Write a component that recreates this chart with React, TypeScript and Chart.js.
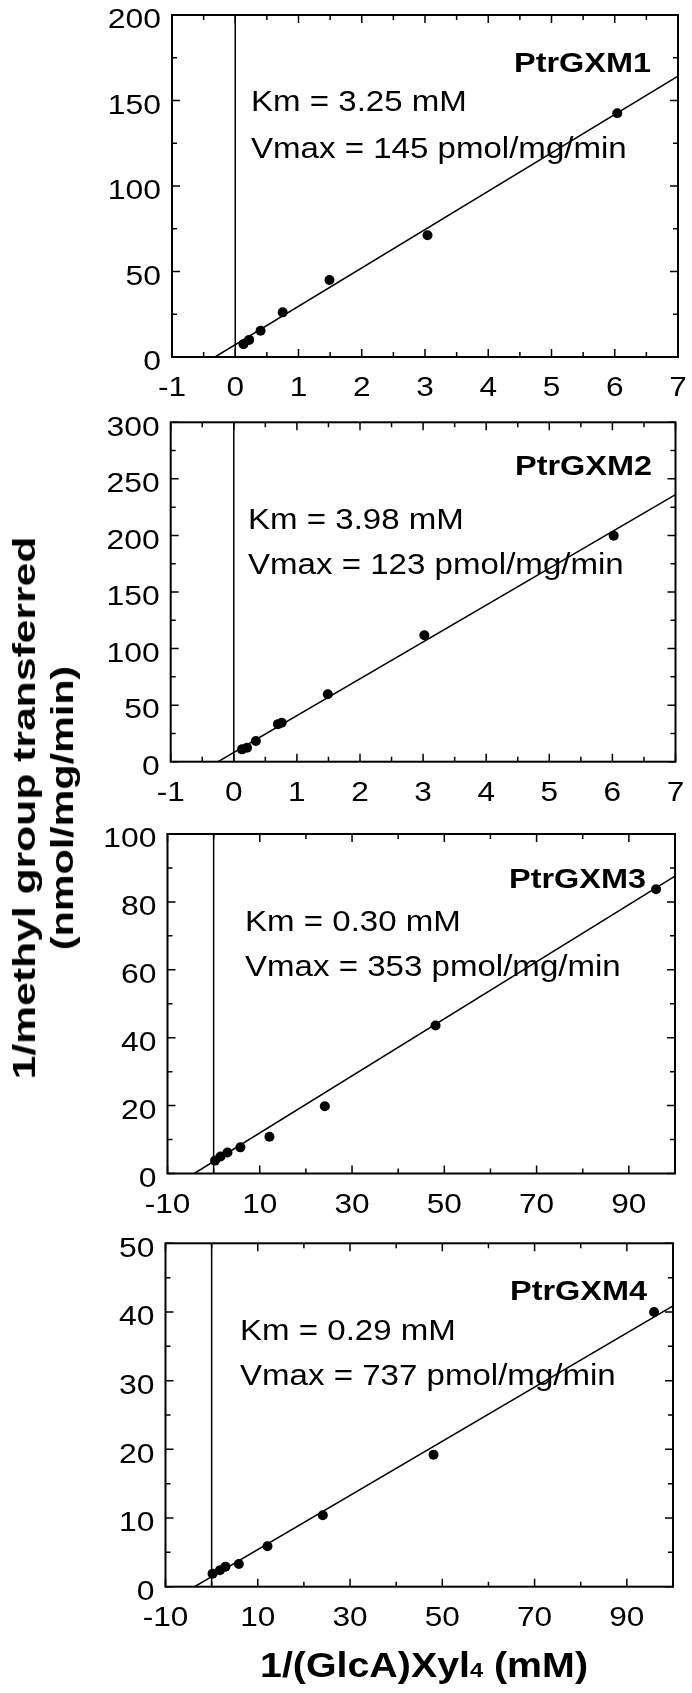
import React, { useEffect, useRef } from 'react';
import { Chart, registerables } from 'chart.js';

Chart.register(...registerables);

// ---------------- data ----------------
const P1_X = [0.13, 0.22, 0.4, 0.75, 1.49, 3.04, 6.04];
const P1_Y = [7.5, 10, 15.4, 26.1, 45, 71.2, 142.5];
const P1_FIT_X = [-0.32, 7];
const P1_FIT_Y = [0, 164.3];

const P2_X = [0.13, 0.21, 0.35, 0.7, 0.76, 1.49, 3.02, 6.02];
const P2_Y = [10.9, 12.4, 18.3, 33.2, 34.5, 59.6, 111.7, 199.8];
const P2_FIT_X = [-0.25, 7];
const P2_FIT_Y = [0, 236];

const P3_X = [0.3, 1.5, 3, 5.8, 12.1, 24.1, 48.1, 95.9];
const P3_Y = [3.8, 5, 6.2, 7.7, 10.8, 19.8, 43.6, 83.7];
const P3_FIT_X = [-4.2, 100];
const P3_FIT_Y = [0, 87.6];

const P4_X = [0.2, 1.8, 3, 5.9, 12.1, 24.1, 48.1, 95.9];
const P4_Y = [1.9, 2.4, 2.9, 3.3, 5.9, 10.4, 19.2, 40];
const P4_FIT_X = [-3.7, 100];
const P4_FIT_Y = [0, 40.9];

// tick labels
const X_TICKS_A = [-1, 0, 1, 2, 3, 4, 5, 6, 7];
const X_MINOR_A = [-0.5, 0.5, 1.5, 2.5, 3.5, 4.5, 5.5, 6.5];
const X_TICKS_B = [-10, 10, 30, 50, 70, 90];
const X_MINOR_B = [0, 20, 40, 60, 80, 100];
const Y1_TICKS = [0, 50, 100, 150, 200];
const Y1_MINOR = [25, 75, 125, 175];
const Y2_TICKS = [0, 50, 100, 150, 200, 250, 300];
const Y2_MINOR = [25, 75, 125, 175, 225, 275];
const Y3_TICKS = [0, 20, 40, 60, 80, 100];
const Y3_MINOR = [10, 30, 50, 70, 90];
const Y4_TICKS = [0, 10, 20, 30, 40, 50];
const Y4_MINOR = [5, 15, 25, 35, 45];

const NAMES = ['PtrGXM1', 'PtrGXM2', 'PtrGXM3', 'PtrGXM4'];
const KM_TEXT = ['Km = 3.25 mM', 'Km = 3.98 mM', 'Km = 0.30 mM', 'Km = 0.29 mM'];
const VMAX_TEXT = [
  'Vmax = 145 pmol/mg/min',
  'Vmax = 123 pmol/mg/min',
  'Vmax = 353 pmol/mg/min',
  'Vmax = 737 pmol/mg/min',
];

const Y_TITLE_1 = '1/methyl group transferred';
const Y_TITLE_2 = '(nmol/mg/min)';
const X_TITLE_MAIN = '1/(GlcA)Xyl';
const X_TITLE_SUB = '4';
const X_TITLE_END = ' (mM)';

// ---------------- layout (page pixels) ----------------
const W = 692;
const FONT = '"Liberation Sans", Arial, Helvetica, sans-serif';

type PanelCfg = {
  idx: number;
  xs: number[]; ys: number[]; fitX: number[]; fitY: number[];
  xMin: number; xMax: number; yMin: number; yMax: number;
  xTicks: number[]; xMinor: number[]; yTicks: number[]; yMinor: number[];
  strip: [number, number];
  area: { l: number; r: number; t: number; b: number };
  nameRight: number; nameBase: number; kmLeft: number; kmBase: number; vmBase: number;
  xTitle?: boolean;
};

const PANELS: PanelCfg[] = [
  {
    idx: 0, xs: P1_X, ys: P1_Y, fitX: P1_FIT_X, fitY: P1_FIT_Y,
    xMin: -1, xMax: 7, yMin: 0, yMax: 200,
    xTicks: X_TICKS_A, xMinor: X_MINOR_A, yTicks: Y1_TICKS, yMinor: Y1_MINOR,
    strip: [0, 410], area: { l: 172, r: 678, t: 15, b: 357 },
    nameRight: 651, nameBase: 72, kmLeft: 251, kmBase: 111, vmBase: 158,
  },
  {
    idx: 1, xs: P2_X, ys: P2_Y, fitX: P2_FIT_X, fitY: P2_FIT_Y,
    xMin: -1, xMax: 7, yMin: 0, yMax: 300,
    xTicks: X_TICKS_A, xMinor: X_MINOR_A, yTicks: Y2_TICKS, yMinor: Y2_MINOR,
    strip: [410, 820], area: { l: 170.7, r: 675.5, t: 422.3, b: 761.7 },
    nameRight: 652, nameBase: 475, kmLeft: 248, kmBase: 529, vmBase: 574,
  },
  {
    idx: 2, xs: P3_X, ys: P3_Y, fitX: P3_FIT_X, fitY: P3_FIT_Y,
    xMin: -10, xMax: 100, yMin: 0, yMax: 100,
    xTicks: X_TICKS_B, xMinor: X_MINOR_B, yTicks: Y3_TICKS, yMinor: Y3_MINOR,
    strip: [820, 1225], area: { l: 167.5, r: 675, t: 834, b: 1173.5 },
    nameRight: 646, nameBase: 888, kmLeft: 245, kmBase: 931, vmBase: 976,
  },
  {
    idx: 3, xs: P4_X, ys: P4_Y, fitX: P4_FIT_X, fitY: P4_FIT_Y,
    xMin: -10, xMax: 100, yMin: 0, yMax: 50,
    xTicks: X_TICKS_B, xMinor: X_MINOR_B, yTicks: Y4_TICKS, yMinor: Y4_MINOR,
    strip: [1225, 1693], area: { l: 165.5, r: 673, t: 1243.3, b: 1586.7 },
    nameRight: 647, nameBase: 1300, kmLeft: 240, kmBase: 1340, vmBase: 1385,
    xTitle: true,
  },
];

function drawText(
  ctx: CanvasRenderingContext2D, text: string, x: number, y: number,
  font: string, align: 'left' | 'right' | 'center', sx: number,
) {
  ctx.save();
  ctx.font = font;
  const w = ctx.measureText(text).width * sx;
  const left = align === 'right' ? x - w : align === 'center' ? x - w / 2 : x;
  ctx.translate(left, y);
  ctx.scale(sx, 1);
  ctx.textAlign = 'left';
  ctx.textBaseline = 'alphabetic';
  ctx.fillStyle = '#000';
  ctx.fillText(text, 0, 0);
  ctx.restore();
}

function drawFitted(
  ctx: CanvasRenderingContext2D, text: string, x: number, y: number,
  font: string, align: 'left' | 'right', targetW: number,
) {
  ctx.save();
  ctx.font = font;
  const sx = targetW / ctx.measureText(text).width;
  ctx.restore();
  drawText(ctx, text, x, y, font, align, sx);
}

function makePlugin(p: PanelCfg) {
  const off = p.strip[0];
  return {
    id: 'frameAndText' + p.idx,
    afterDraw(chart: any) {
      const ctx: CanvasRenderingContext2D = chart.ctx;
      const a = chart.chartArea;
      const xs = chart.scales.x;
      const ys = chart.scales.y;
      ctx.save();
      ctx.strokeStyle = '#000';
      ctx.lineWidth = 2;
      ctx.strokeRect(a.left, a.top, a.right - a.left, a.bottom - a.top);

      ctx.lineWidth = 1.5;
      const xTick = (vals: number[], len: number) => {
        vals.forEach((v) => {
          const px = xs.getPixelForValue(v);
          ctx.beginPath();
          ctx.moveTo(px, a.bottom);
          ctx.lineTo(px, a.bottom - len);
          ctx.moveTo(px, a.top);
          ctx.lineTo(px, a.top + len);
          ctx.stroke();
        });
      };
      const yTick = (vals: number[], len: number) => {
        vals.forEach((v) => {
          const py = ys.getPixelForValue(v);
          ctx.beginPath();
          ctx.moveTo(a.left, py);
          ctx.lineTo(a.left + len, py);
          ctx.moveTo(a.right, py);
          ctx.lineTo(a.right - len, py);
          ctx.stroke();
        });
      };
      xTick(p.xTicks, 8);
      xTick(p.xMinor, 5);
      yTick(p.yTicks, 8);
      yTick(p.yMinor, 5);

      const tickFont = `27px ${FONT}`;
      p.yTicks.forEach((v) => {
        const py = ys.getPixelForValue(v);
        drawText(ctx, String(v), a.left - 11, py + 13.2, tickFont, 'right', 1.18);
      });
      p.xTicks.forEach((v) => {
        const px = xs.getPixelForValue(v);
        drawText(ctx, String(v), px, a.bottom + 39, tickFont, 'center', 1.17);
      });

      // annotations
      drawFitted(ctx, NAMES[p.idx], p.nameRight, p.nameBase - off, `bold 27px ${FONT}`, 'right', 137);
      drawText(ctx, KM_TEXT[p.idx], p.kmLeft, p.kmBase - off, `29px ${FONT}`, 'left', 1.14);
      drawText(ctx, VMAX_TEXT[p.idx], p.kmLeft, p.vmBase - off, `29px ${FONT}`, 'left', 1.14);

      if (p.xTitle) {
        const big = `bold 35px ${FONT}`;
        const small = `bold 21px ${FONT}`;
        ctx.font = big;
        const w1 = ctx.measureText(X_TITLE_MAIN).width;
        const w3 = ctx.measureText(X_TITLE_END).width;
        ctx.font = small;
        const w2 = ctx.measureText(X_TITLE_SUB).width;
        const total = w1 + w2 + w3;
        const sx = 328 / total;
        const base = 1677 - off;
        ctx.save();
        ctx.translate(260, base);
        ctx.scale(sx, 1);
        ctx.fillStyle = '#000';
        ctx.textBaseline = 'alphabetic';
        ctx.textAlign = 'left';
        ctx.font = big;
        ctx.fillText(X_TITLE_MAIN, 0, 0);
        ctx.font = small;
        ctx.fillText(X_TITLE_SUB, w1, 0);
        ctx.font = big;
        ctx.fillText(X_TITLE_END, w1 + w2, 0);
        ctx.restore();
      }
      ctx.restore();
    },
  };
}

function Panel({ p }: { p: PanelCfg }) {
  const ref = useRef<HTMLCanvasElement | null>(null);
  const h = p.strip[1] - p.strip[0];
  useEffect(() => {
    if (!ref.current) return;
    const pts = p.xs.map((x, i) => ({ x, y: p.ys[i] }));
    const fit = p.fitX.map((x, i) => ({ x, y: p.fitY[i] }));
    const zero = [{ x: 0, y: p.yMin }, { x: 0, y: p.yMax }];
    const chart = new Chart(ref.current, {
      type: 'scatter',
      data: {
        datasets: [
          {
            data: pts,
            pointRadius: 5,
            pointBackgroundColor: '#000',
            pointBorderColor: '#000',
            pointBorderWidth: 0,
            showLine: false,
          },
          {
            data: fit,
            showLine: true,
            borderColor: '#000',
            borderWidth: 1.5,
            pointRadius: 0,
          },
          {
            data: zero,
            showLine: true,
            borderColor: '#000',
            borderWidth: 1.5,
            pointRadius: 0,
          },
        ],
      },
      options: {
        responsive: false,
        maintainAspectRatio: false,
        animation: false,
        devicePixelRatio: 1,
        events: [],
        layout: {
          padding: {
            left: p.area.l,
            right: W - p.area.r,
            top: p.area.t - p.strip[0],
            bottom: p.strip[1] - p.area.b,
          },
        },
        plugins: { legend: { display: false }, tooltip: { enabled: false }, title: { display: false } },
        scales: {
          x: { type: 'linear', min: p.xMin, max: p.xMax, display: false },
          y: { type: 'linear', min: p.yMin, max: p.yMax, display: false },
        },
      },
      plugins: [makePlugin(p)],
    } as any);
    return () => chart.destroy();
  }, [p]);
  return (
    <canvas
      ref={ref}
      width={W}
      height={h}
      style={{ position: 'absolute', left: 0, top: p.strip[0], width: W, height: h }}
    />
  );
}

export default function App() {
  const titleStyle: React.CSSProperties = {
    position: 'absolute',
    whiteSpace: 'nowrap',
    fontFamily: FONT,
    fontWeight: 'bold',
    fontSize: 32,
    lineHeight: 1,
    color: '#000',
  };
  return (
    <div style={{ position: 'absolute', left: 0, top: 0, width: W, height: 1693, background: '#fff', overflow: 'hidden' }}>
      {PANELS.map((p) => (
        <Panel key={p.idx} p={p} />
      ))}
      <div style={{ ...titleStyle, left: 24, top: 808, transform: 'translate(-50%, -50%) rotate(-90deg) scaleX(1.333)' }}>
        {Y_TITLE_1}
      </div>
      <div style={{ ...titleStyle, left: 61.5, top: 808, transform: 'translate(-50%, -50%) rotate(-90deg) scaleX(1.29)' }}>
        {Y_TITLE_2}
      </div>
    </div>
  );
}
